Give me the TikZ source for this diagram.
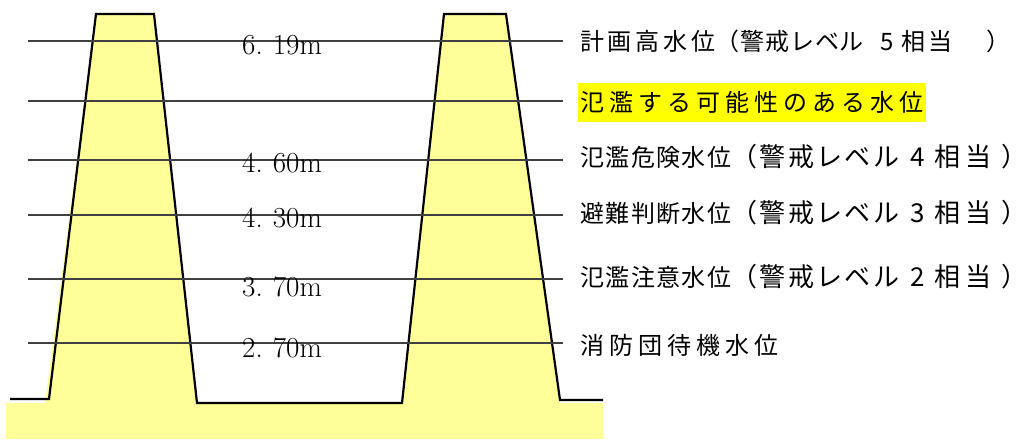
\documentclass[tikz,border=0pt]{standalone}
\usepackage{fontspec}
\newfontfamily\jp{Noto Sans CJK JP}
\newfontfamily\jpA[LetterSpace=15.6]{Noto Sans CJK JP}
\newfontfamily\jpB[LetterSpace=21]{Noto Sans CJK JP}
\newfontfamily\jpC[LetterSpace=6]{Noto Sans CJK JP}
\newfontfamily\jpP[LetterSpace=4]{Noto Sans CJK JP}
\newfontfamily\jpQ[LetterSpace=9]{Noto Sans CJK JP}
\definecolor{dikefill}{HTML}{FFFF99}
\definecolor{hilite}{HTML}{FFFF00}
\newcommand{\parenA}[1]{{\jpP（警戒レベル\hspace{0.7em}#1\hspace{0.3em}相\hspace{0.15em}当\hspace{1.4em}\makebox[0.3em][l]{\jp ）}}}
\newcommand{\parenC}[1]{{\fontsize{26}{26}\selectfont\jpQ（警戒レベル\hspace{0.45em}#1\hspace{0.35em}相\hspace{0.2em}当\hspace{0.4em}\makebox[0.3em][l]{\jp ）}}}
\begin{document}
\begin{tikzpicture}[x=1pt,y=-1pt,
  levelline/.style={draw=black!75, line width=1.2pt},
  dikeline/.style={draw=black, line width=2.2pt, line join=miter},
  jlabel/.style={anchor=west, inner sep=0pt, font=\fontsize{24}{24}\selectfont\jp},
  numlabel/.style={anchor=west, inner sep=0pt, font=\fontsize{29}{29}\selectfont}]
\useasboundingbox (0,0) rectangle (1032,439);
% fills
\fill[dikefill] (6,403) rectangle (603,439);
\fill[dikefill] (45,403) -- (96,14) -- (154,14) -- (197,403) -- cycle;
\fill[dikefill] (402,403) -- (444,14) -- (506,14) -- (560,403) -- cycle;
% dike outline
\draw[dikeline] (10,399) -- (49,399) -- (96,14) -- (154,14) -- (197,403)
  -- (402,403) -- (444,14) -- (506,14) -- (560,400) -- (603,400);
% level lines
\foreach \n/\y in {a/41,b/101,c/160,d/215,e/279,f/343}{
  \coordinate (s\n) at (28,\y);
  \coordinate (e\n) at (563,\y);
  \draw[levelline] (s\n) -- (e\n);
}
% numeric labels
\node[numlabel] (na) at (242,45)  {6.\hspace{0.35em}19m};
\node[numlabel] (nc) at (242,163) {4.\hspace{0.35em}60m};
\node[numlabel] (nd) at (242,218) {4.\hspace{0.35em}30m};
\node[numlabel] (ne) at (242,287) {3.\hspace{0.35em}70m};
\node[numlabel] (nf) at (242,348) {2.\hspace{0.35em}70m};
% right labels
\node[jlabel] (la) at (580,41)  {{\jpA 計画高水位}\parenA{5}};
\node[jlabel, fill=hilite, inner xsep=2pt, minimum height=39pt] (lb) at (578,102) {{\jpB 氾濫する可能性のある水位}};
\node[jlabel] (lc) at (580,157) {{\jpC 氾濫危険水位}\parenC{4}};
\node[jlabel] (ld) at (580,213) {{\jpC 避難判断水位}\parenC{3}};
\node[jlabel] (le) at (580,277) {{\jpC 氾濫注意水位}\parenC{2}};
\node[jlabel] (lf) at (580,345) {{\jpB 消防団待機水位}};
\end{tikzpicture}
\end{document}
